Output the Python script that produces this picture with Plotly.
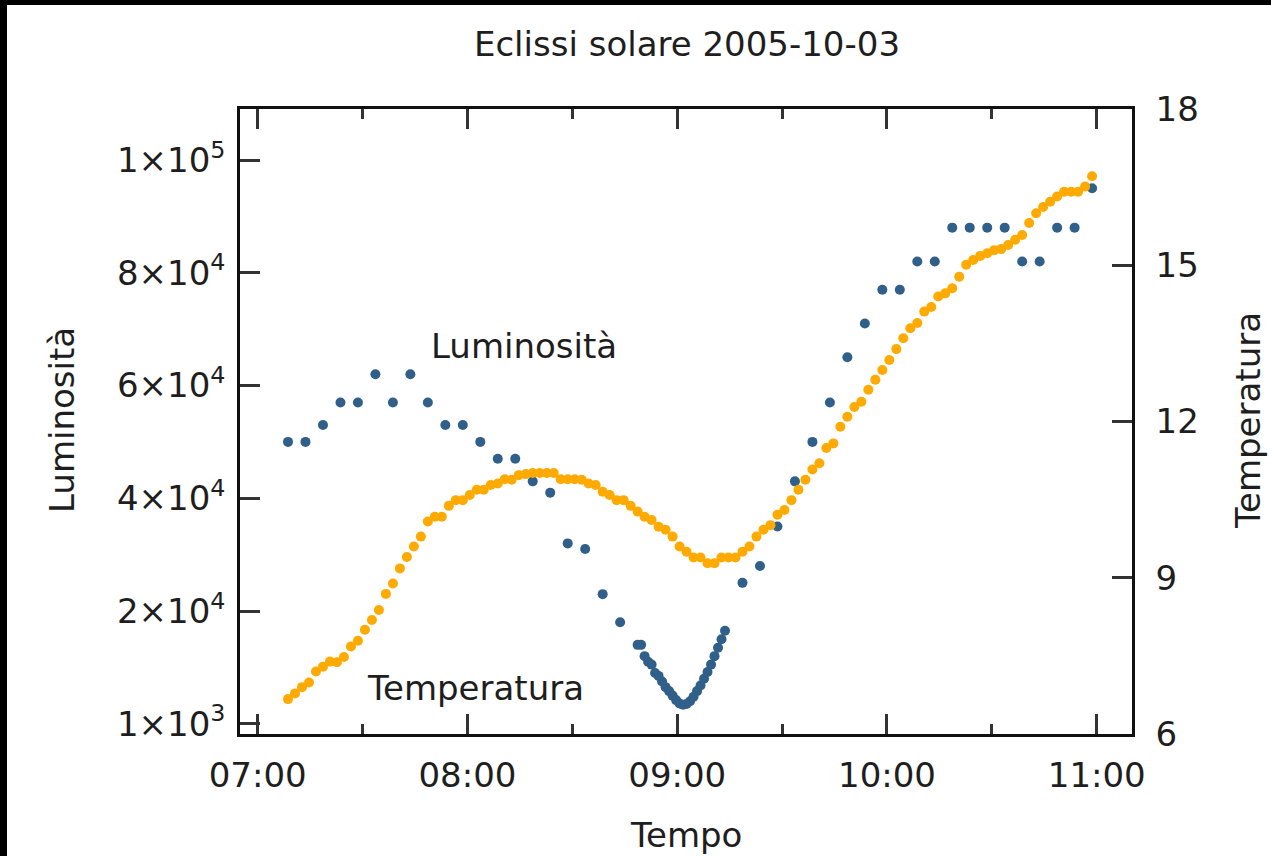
import plotly.graph_objects as go

DAY = "2005-10-03 "

# ---------------- data ----------------
lum_times = [
    "07:08:40", "07:13:40", "07:18:40", "07:23:40", "07:28:40", "07:33:40", "07:38:40", "07:43:40",
    "07:48:40", "07:53:40", "07:58:40", "08:03:40", "08:08:40", "08:13:40", "08:18:40", "08:23:40",
    "08:28:40", "08:33:40", "08:38:40", "08:43:40",
    "08:48:40", "08:49:40", "08:50:40", "08:51:40", "08:52:40", "08:53:40", "08:54:40", "08:55:40",
    "08:56:40", "08:57:40", "08:58:40", "08:59:40", "09:00:40", "09:01:40", "09:02:40", "09:03:40",
    "09:04:40", "09:05:40", "09:06:40", "09:07:40", "09:08:40", "09:09:40", "09:10:40", "09:11:40",
    "09:12:40", "09:13:40",
    "09:18:40", "09:23:40", "09:28:40", "09:33:40", "09:38:40", "09:43:40", "09:48:40", "09:53:40",
    "09:58:40", "10:03:40", "10:08:40", "10:13:40", "10:18:40", "10:23:40", "10:28:40", "10:33:40",
    "10:38:40", "10:43:40", "10:48:40", "10:53:40", "10:58:40",
]
lum_values = [
    50000, 50000, 53000, 57000, 57000, 62000, 57000, 62000,
    57000, 53000, 53000, 50000, 47000, 47000, 43000, 41000,
    32000, 31000, 23000, 18000,
    14000, 14000, 12000, 11000, 10500, 9000, 8500, 7500,
    6500, 5800, 5000, 4200, 3600, 3400, 3500, 4000,
    4800, 5800, 6800, 8000, 9200, 10500, 12000, 13500,
    15000, 16500,
    25000, 28000, 35000, 43000, 50000, 57000, 65000, 71000,
    77000, 77000, 82000, 82000, 88000, 88000, 88000, 88000,
    82000, 82000, 88000, 88000, 95000,
]

temp_times = [
    "07:08:40", "07:10:40", "07:12:40", "07:14:40", "07:16:40", "07:18:40", "07:20:40", "07:22:40", "07:24:40", "07:26:40",
    "07:28:40", "07:30:40", "07:32:40", "07:34:40", "07:36:40", "07:38:40", "07:40:40", "07:42:40", "07:44:40", "07:46:40",
    "07:48:40", "07:50:40", "07:52:40", "07:54:40", "07:56:40", "07:58:40", "08:00:40", "08:02:40", "08:04:40", "08:06:40",
    "08:08:40", "08:10:40", "08:12:40", "08:14:40", "08:16:40", "08:18:40", "08:20:40", "08:22:40", "08:24:40", "08:26:40",
    "08:28:40", "08:30:40", "08:32:40", "08:34:40", "08:36:40", "08:38:40", "08:40:40", "08:42:40", "08:44:40", "08:46:40",
    "08:48:40", "08:50:40", "08:52:40", "08:54:40", "08:56:40", "08:58:40", "09:00:40", "09:02:40", "09:04:40", "09:06:40",
    "09:08:40", "09:10:40", "09:12:40", "09:14:40", "09:16:40", "09:18:40", "09:20:40", "09:22:40", "09:24:40", "09:26:40",
    "09:28:40", "09:30:40", "09:32:40", "09:34:40", "09:36:40", "09:38:40", "09:40:40", "09:42:40", "09:44:40", "09:46:40",
    "09:48:40", "09:50:40", "09:52:40", "09:54:40", "09:56:40", "09:58:40", "10:00:40", "10:02:40", "10:04:40", "10:06:40",
    "10:08:40", "10:10:40", "10:12:40", "10:14:40", "10:16:40", "10:18:40", "10:20:40", "10:22:40", "10:24:40", "10:26:40",
    "10:28:40", "10:30:40", "10:32:40", "10:34:40", "10:36:40", "10:38:40", "10:40:40", "10:42:40", "10:44:40", "10:46:40",
    "10:48:40", "10:50:40", "10:52:40", "10:54:40", "10:56:40", "10:58:40",
]
temp_values = [
    6.67, 6.78, 6.90, 6.99, 7.20, 7.29, 7.39, 7.38, 7.48, 7.68,
    7.79, 8.00, 8.19, 8.38, 8.69, 8.89, 9.18, 9.40, 9.60, 9.79,
    10.08, 10.17, 10.17, 10.38, 10.49, 10.49, 10.59, 10.69, 10.69, 10.78,
    10.81, 10.89, 10.88, 10.97, 10.99, 11.01, 11.01, 11.01, 11.01, 10.89,
    10.89, 10.89, 10.88, 10.81, 10.78, 10.65, 10.59, 10.49, 10.49, 10.38,
    10.27, 10.17, 10.11, 9.98, 9.92, 9.79, 9.60, 9.50, 9.39, 9.39,
    9.28, 9.28, 9.39, 9.39, 9.39, 9.50, 9.60, 9.79, 9.92, 10.01,
    10.21, 10.30, 10.49, 10.69, 10.88, 11.08, 11.20, 11.49, 11.58, 11.90,
    12.09, 12.28, 12.38, 12.61, 12.80, 12.99, 13.18, 13.39, 13.60, 13.79,
    13.89, 14.11, 14.20, 14.40, 14.46, 14.56, 14.78, 15.01, 15.10, 15.18,
    15.23, 15.29, 15.31, 15.39, 15.49, 15.58, 15.81, 16.00, 16.12, 16.22,
    16.32, 16.41, 16.41, 16.41, 16.51, 16.71,
]

lum_tickvals = [0, 20000, 40000, 60000, 80000, 100000]
lum_ticktext = ["1×10<sup>3</sup>", "2×10<sup>4</sup>", "4×10<sup>4</sup>",
                "6×10<sup>4</sup>", "8×10<sup>4</sup>", "1×10<sup>5</sup>"]
temp_tickvals = [6, 9, 12, 15, 18]
time_tickvals = ["07:00", "08:00", "09:00", "10:00", "11:00"]

title_text = "Eclissi solare 2005-10-03"
x_title = "Tempo"
y_title = "Luminosità"
y2_title = "Temperatura"
lum_label = "Luminosità"
temp_label = "Temperatura"

# ---------------- layout geometry (pixels) ----------------
W, H = 1271, 856
L, R, T, B = 240, 139, 109, 122
PW, PH = W - L - R, H - T - B


def px(x):
    return (x - L) / PW


def py(y):
    return 1 - (y - T) / PH


FONT = "DejaVu Sans"
TXT = "#1e1e1e"
BLUE = "#30608a"
ORANGE = "#ffaa00"

fig = go.Figure()
fig.add_trace(go.Scatter(
    x=[DAY + t for t in lum_times], y=lum_values, mode="markers",
    marker=dict(color=BLUE, size=10, line=dict(width=0)),
    name=lum_label, yaxis="y", showlegend=False, hoverinfo="x+y"))
fig.add_trace(go.Scatter(
    x=[DAY + t for t in temp_times], y=temp_values, mode="markers",
    marker=dict(color=ORANGE, size=10, line=dict(width=0)),
    name=temp_label, yaxis="y2", showlegend=False, hoverinfo="x+y"))

axis_common = dict(
    showline=True, linecolor="#111111", linewidth=2.5,
    ticks="inside", tickcolor="#333333", tickwidth=2.5, ticklen=20,
    showgrid=False, zeroline=False,
    tickfont=dict(family=FONT, size=34, color=TXT),
)

fig.update_layout(
    width=W, height=H,
    margin=dict(l=L, r=R, t=T, b=B, pad=0),
    paper_bgcolor="white", plot_bgcolor="white",
    font=dict(family=FONT, size=34, color=TXT),
    title=dict(text=title_text, x=px(687), xref="paper", xanchor="center",
               y=1 - 44 / H, yref="container", yanchor="middle",
               font=dict(family=FONT, size=34, color=TXT)),
    xaxis=dict(
        type="date",
        range=[DAY + "06:54:56", DAY + "11:10:05"],
        tickvals=[DAY + t for t in time_tickvals],
        ticktext=time_tickvals,
        mirror="ticks",
        minor=dict(dtick=30 * 60 * 1000, tick0=DAY + "07:00", ticks="inside",
                   ticklen=10, tickwidth=2.5, tickcolor="#333333", showgrid=False),
        ticklabelstandoff=9,
        **axis_common,
    ),
    yaxis=dict(
        range=[-1809, 109045],
        tickvals=lum_tickvals, ticktext=lum_ticktext,
        side="left", ticklabelstandoff=5,
        **axis_common,
    ),
    yaxis2=dict(
        range=[6, 18], tickvals=temp_tickvals,
        overlaying="y", side="right", ticklabelstandoff=14,
        **axis_common,
    ),
)

# black strips along the top and left edge of the picture
fig.add_shape(type="rect", xref="paper", yref="paper",
              x0=px(0), x1=px(W), y0=py(0), y1=py(5),
              fillcolor="black", line=dict(width=0), layer="above")
fig.add_shape(type="rect", xref="paper", yref="paper",
              x0=px(0), x1=px(7), y0=py(0), y1=py(H),
              fillcolor="black", line=dict(width=0), layer="above")

ann_font = dict(family=FONT, size=34, color=TXT)
fig.add_annotation(text=x_title, xref="paper", yref="paper", x=px(686), y=py(835),
                   xanchor="center", yanchor="middle", showarrow=False, font=ann_font)
fig.add_annotation(text=y_title, xref="paper", yref="paper", x=px(62), y=py(420),
                   xanchor="center", yanchor="middle", showarrow=False, font=ann_font,
                   textangle=-90)
fig.add_annotation(text=y2_title, xref="paper", yref="paper", x=px(1248), y=py(421),
                   xanchor="center", yanchor="middle", showarrow=False, font=ann_font,
                   textangle=-90)
fig.add_annotation(text=lum_label, xref="paper", yref="paper", x=px(524), y=py(346),
                   xanchor="center", yanchor="middle", showarrow=False, font=ann_font)
fig.add_annotation(text=temp_label, xref="paper", yref="paper", x=px(475), y=py(688),
                   xanchor="center", yanchor="middle", showarrow=False, font=ann_font)

fig.write_html("out.html")
